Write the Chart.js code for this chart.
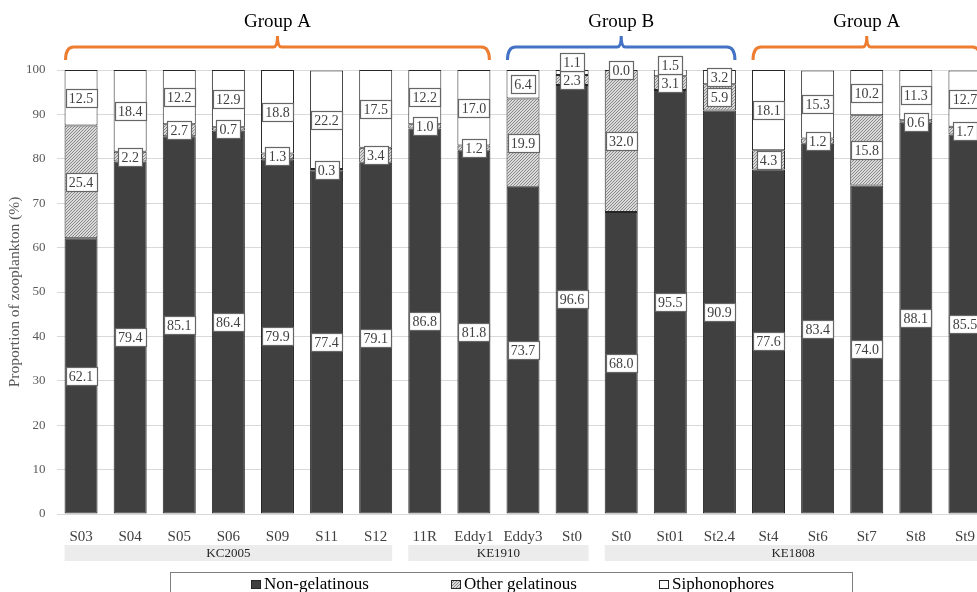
<!DOCTYPE html>
<html>
<head>
<meta charset="utf-8">
<script src="https://cdn.jsdelivr.net/npm/chart.js@4.4.1/dist/chart.umd.min.js"></script>
<style>
html, body { margin: 0; padding: 0; overflow: hidden; background: #fff; }
#wrap { width: 992px; height: 592px; position: relative; }
</style>
</head>
<body>
<div id="wrap"><canvas id="chart"></canvas></div>
<script>
const stations = ["S03", "S04", "S05", "S06", "S09", "S11", "S12", "11R", "Eddy1", "Eddy3", "St0",
                  "St0", "St01", "St2.4", "St4", "St6", "St7", "St8", "St9"];
const nonGelatinous   = [62.1, 79.4, 85.1, 86.4, 79.9, 77.4, 79.1, 86.8, 81.8, 73.7, 96.6, 68.0, 95.5, 90.9, 77.6, 83.4, 74.0, 88.1, 85.5];
const otherGelatinous = [25.4, 2.2, 2.7, 0.7, 1.3, 0.3, 3.4, 1.0, 1.2, 19.9, 2.3, 32.0, 3.1, 5.9, 4.3, 1.2, 15.8, 0.6, 1.7];
const siphonophores   = [12.5, 18.4, 12.2, 12.9, 18.8, 22.2, 17.5, 12.2, 17.0, 6.4, 1.1, 0.0, 1.5, 3.2, 18.1, 15.3, 10.2, 11.3, 12.7];

// cruises and groups: [name, first index, last index]
const cruises = [["KC2005", 0, 6], ["KE1910", 7, 10], ["KE1808", 11, 18]];
const groups = [["Group A", 0, 8], ["Group B", 9, 13], ["Group A", 14, 18]];
const groupColors = { "Group A": "#ed7d31", "Group B": "#4472c4" };

const SERIF = "'Liberation Serif', 'Times New Roman', serif";
const ctx = document.getElementById("chart").getContext("2d");

// fine diagonal hatch for "other gelatinous"
function makeHatch() {
    const c = document.createElement("canvas");
    c.width = 3; c.height = 3;
    const g = c.getContext("2d");
    g.fillStyle = "#dadada";
    g.fillRect(0, 0, 3, 3);
    g.strokeStyle = "#808080";
    g.lineWidth = 0.9;
    g.beginPath();
    g.moveTo(0, 3); g.lineTo(3, 0);
    g.moveTo(-1, 1); g.lineTo(1, -1);
    g.moveTo(2, 4); g.lineTo(4, 2);
    g.stroke();
    return ctx.createPattern(c, "repeat");
}
const hatch = makeHatch();

// value boxes on every segment, pushed up when they collide
const segLabels = {
    id: "segLabels",
    afterDatasetsDraw(chart) {
        const c = chart.ctx;
        c.save();
        c.font = "14px " + SERIF;
        c.textAlign = "center";
        c.textBaseline = "middle";
        const h = 18;
        chart.data.labels.forEach((_, i) => {
            let prevTop = Infinity;
            chart.data.datasets.forEach((ds, d) => {
                const bar = chart.getDatasetMeta(d).data[i];
                const txt = ds.data[i].toFixed(1);
                const w = Math.round(c.measureText(txt).width) + 6;
                let cy = (bar.y + bar.base) / 2;
                if (cy + h / 2 > prevTop) cy = prevTop - h / 2;
                prevTop = cy - h / 2;
                const x0 = Math.round(bar.x - w / 2) + 0.5;
                const y0 = Math.round(cy - h / 2) + 0.5;
                c.fillStyle = "#fff";
                c.fillRect(x0, y0, w, h);
                c.strokeStyle = "#666666";
                c.lineWidth = 1.2;
                c.strokeRect(x0, y0, w, h);
                c.fillStyle = "#404040";
                c.fillText(txt, bar.x, y0 + h / 2 + 1);
            });
        });
        c.restore();
    }
};

// braces on top, cruise bands and legend underneath
const decorations = {
    id: "decorations",
    afterDraw(chart) {
        const c = chart.ctx;
        const meta = chart.getDatasetMeta(0);
        const half = meta.data[0].width / 2;
        const left = i => meta.data[i].x - half;
        const right = i => meta.data[i].x + half;
        c.save();

        groups.forEach(([name, a, b]) => {
            const x0 = left(a) + 1, x1 = right(b) - 1, xc = (x0 + x1) / 2;
            c.strokeStyle = groupColors[name];
            c.lineWidth = 3;
            c.beginPath();
            c.moveTo(x0, 60);
            c.quadraticCurveTo(x0, 47, x0 + 8, 47);
            c.lineTo(xc - 4, 47);
            c.quadraticCurveTo(xc, 47, xc, 36);
            c.quadraticCurveTo(xc, 47, xc + 4, 47);
            c.lineTo(x1 - 8, 47);
            c.quadraticCurveTo(x1, 47, x1, 60);
            c.stroke();
            c.fillStyle = "#000";
            c.font = "19px " + SERIF;
            c.textAlign = "center";
            c.textBaseline = "middle";
            c.fillText(name, xc, 22);
        });

        cruises.forEach(([name, a, b]) => {
            const x0 = left(a), x1 = Math.min(right(b), chart.width);
            c.fillStyle = "#ececec";
            c.fillRect(x0, 545, x1 - x0, 16);
            c.fillStyle = "#262626";
            c.font = "13px " + SERIF;
            c.textAlign = "center";
            c.textBaseline = "middle";
            const xt = b === stations.length - 1 ? (x0 + right(b)) / 2 : (x0 + x1) / 2;
            c.fillText(name, xt, 553.5);
        });

        // legend box
        c.strokeStyle = "#7f7f7f";
        c.lineWidth = 1;
        c.strokeRect(170.5, 572.5, 682, 40);
        const itemX = [251, 451, 659];
        c.font = "17px " + SERIF;
        c.textAlign = "left";
        c.textBaseline = "alphabetic";
        chart.data.datasets.forEach((ds, d) => {
            const x = itemX[d];
            c.fillStyle = ds.backgroundColor;
            c.fillRect(x + 0.5, 580.5, 9, 8);
            c.strokeStyle = "#262626";
            c.strokeRect(x + 0.5, 580.5, 9, 8);
            c.fillStyle = "#000";
            c.fillText(ds.label, x + 13, 589);
        });
        c.restore();
    }
};

const barStyle = { borderColor: "#262626", borderWidth: 1, borderSkipped: false,
                   barPercentage: 0.672, categoryPercentage: 1 };

new Chart(ctx, {
    type: "bar",
    data: {
        labels: stations,
        datasets: [
            Object.assign({ label: "Non-gelatinous", data: nonGelatinous, backgroundColor: "#404040" }, barStyle),
            Object.assign({ label: "Other gelatinous", data: otherGelatinous, backgroundColor: hatch }, barStyle),
            Object.assign({ label: "Siphonophores", data: siphonophores, backgroundColor: "#ffffff" }, barStyle)
        ]
    },
    options: {
        responsive: true,
        maintainAspectRatio: false,
        animation: false,
        layout: { padding: { top: 70, right: 2.5, left: 0, bottom: 0 } },
        plugins: { legend: { display: false }, tooltip: { enabled: false } },
        scales: {
            x: {
                stacked: true,
                grid: { display: false },
                border: { display: false },
                ticks: { color: "#404040", font: { family: SERIF, size: 15 }, padding: 6, maxRotation: 0, autoSkip: false },
                afterFit: s => { s.height = 78; }
            },
            y: {
                stacked: true,
                min: 0, max: 100,
                grid: { color: "#d9d9d9", drawTicks: false },
                border: { display: false },
                ticks: { stepSize: 10, color: "#595959", font: { family: SERIF, size: 13 }, padding: 11 },
                title: { display: true, text: "Proportion of zooplankton (%)", color: "#595959",
                         font: { family: SERIF, size: 15.5 }, padding: { top: 6, bottom: 0 } },
                afterFit: s => { s.width = 56.5; }
            }
        }
    },
    plugins: [segLabels, decorations]
});
</script>
</body>
</html>
